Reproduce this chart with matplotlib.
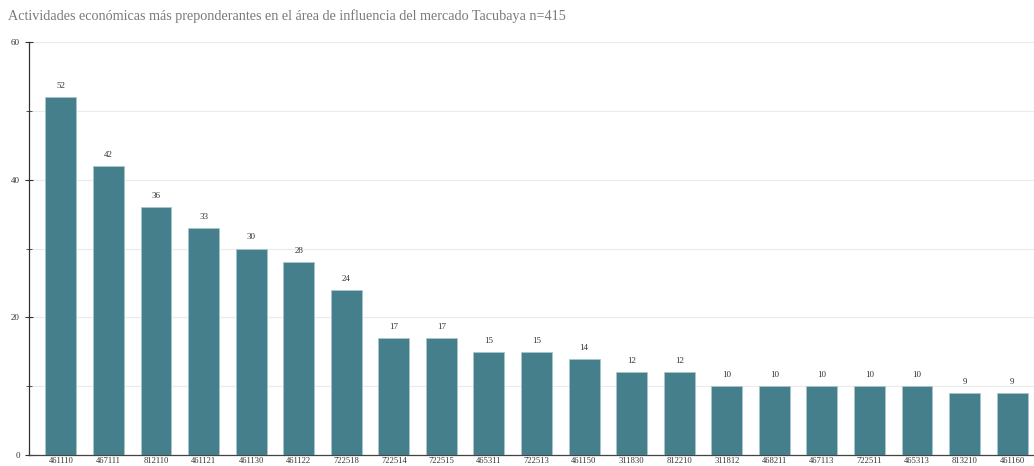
import matplotlib
matplotlib.use("Agg")
import matplotlib.pyplot as plt
from matplotlib.ticker import MultipleLocator

codes = ["461110", "467111", "812110", "461121", "461130", "461122", "722518",
         "722514", "722515", "465311", "722513", "461150", "311830", "812210",
         "311812", "468211", "467113", "722511", "465313", "813210", "461160"]
counts = [52, 42, 36, 33, 30, 28, 24, 17, 17, 15, 15, 14, 12, 12,
          10, 10, 10, 10, 10, 9, 9]
title = "Actividades económicas más preponderantes en el área de influencia del mercado Tacubaya n=415"

plt.rcParams["font.family"] = ["Liberation Serif", "DejaVu Serif"]

W, H = 1034, 466
fig = plt.figure(figsize=(W / 100, H / 100), dpi=100)
ax = fig.add_axes([29 / W, 11 / H, (1034 - 29) / W, (455 - 42) / H])

x = list(range(len(codes)))
ax.bar(x, counts, width=0.65, color="#467f8c", edgecolor="#a9c6cc",
       linewidth=0.6, zorder=3)
for xi, v in zip(x, counts):
    ax.text(xi, v + 1.6, str(v), ha="center", va="center", fontsize=6.5,
            color="#333333")

ax.set_xlim(-0.67, 20.46)
ax.set_ylim(0, 60)
ax.set_xticks(x)
ax.set_xticklabels(codes, fontsize=6.2, color="#333333")
ax.yaxis.set_major_locator(MultipleLocator(20))
ax.yaxis.set_minor_locator(MultipleLocator(10))
ax.tick_params(axis="y", which="major", labelsize=6.5, labelcolor="#333333",
               length=6, width=0.8, color="#333333", direction="inout")
ax.tick_params(axis="y", which="minor", length=4, width=0.6, color="#333333",
               direction="inout")
ax.tick_params(axis="x", length=0, pad=1.5)
ax.grid(axis="y", which="both", color="#ebebeb", linewidth=0.8, zorder=0)

for s in ["top", "right"]:
    ax.spines[s].set_visible(False)
ax.spines["left"].set_color("#333333")
ax.spines["left"].set_linewidth(0.9)
ax.spines["bottom"].set_color("#444444")
ax.spines["bottom"].set_linewidth(0.9)

fig.text(8 / W, 1 - 16 / H, title, fontsize=10.2, color="#7a7a7a",
         ha="left", va="center")

fig.savefig("out.png", dpi=100)
